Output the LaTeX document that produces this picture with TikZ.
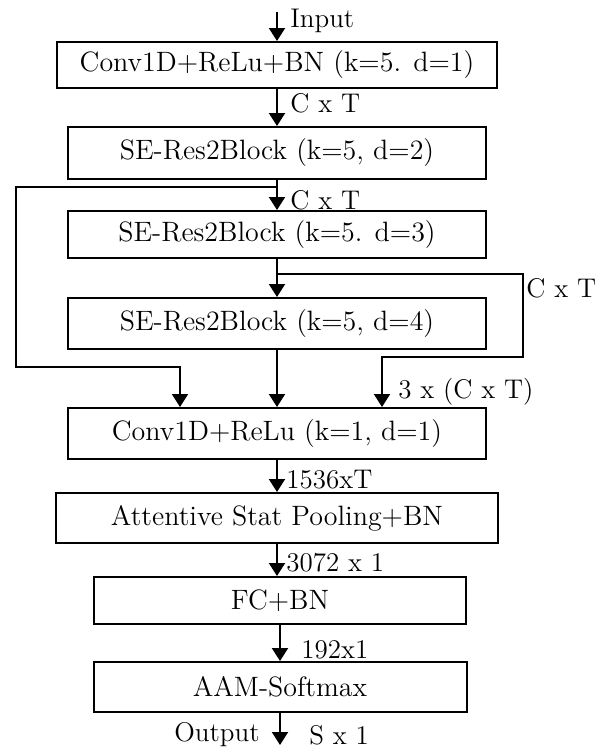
\documentclass[tikz,border=0pt]{standalone}
\usetikzlibrary{arrows.meta}
\begin{document}
\begin{tikzpicture}[x=0.5pt,y=-0.5pt,
  block/.style={draw,line width=1pt,inner sep=0pt,font=\fontsize{14}{17}\selectfont},
  flow/.style={line width=1pt,-{Triangle[width=8pt,length=6.5pt]}},
  dim/.style={anchor=west,inner sep=0pt,font=\fontsize{13.5}{16}\selectfont}]
  \useasboundingbox (0,0) rectangle (597,751);
  % blocks: name/x/y/width/height/text
  \foreach \name/\x/\y/\w/\h/\txt in {
    conv/277/65/440/46/{Conv1D+ReLu+BN (k=5. d=1)},
    res1/277/153/418/52/{SE-Res2Block (k=5, d=2)},
    res2/277/234.5/418/47/{SE-Res2Block (k=5. d=3)},
    res3/277/323.5/418/51/{SE-Res2Block (k=5, d=4)},
    mfa/277/433.5/418/51/{Conv1D+ReLu (k=1, d=1)},
    pool/277/518/442/50/{Attentive Stat Pooling+BN},
    fc/280/600.5/372/47/{FC+BN},
    aam/280/687/373/50/{AAM-Softmax}} {
    \node[block,minimum width=\w*0.5pt,minimum height=\h*0.5pt] (\name) at (\x,\y) {\txt};
  }
  \foreach \a/\b in {conv/res1,res1/res2,res2/res3,res3/mfa,mfa/pool,pool/fc,fc/aam}
    \draw[flow] (\a.south) -- (\a.south |- \b.north);
  % input and output
  \coordinate (in) at (277,12);
  \coordinate (out) at (280,745);
  \draw[flow] (in) -- (conv.north);
  \draw[flow] (aam.south) -- (out);
  % skip connections into the aggregation block
  \coordinate (tap1) at (277,187);
  \coordinate (tap2) at (277,274);
  \draw[flow] (tap1) -| (16,367) -| ([xshift=-48.5pt]mfa.north);
  \draw[flow] (tap2) -| (523,357) -| ([xshift=52.5pt]mfa.north);
  % dimension labels
  \node[dim] (linput) at (290,21) {Input};
  \node[dim] (lct1) at (290,103) {C x T};
  \node[dim] (lct2) at (290,200) {C x T};
  \node[dim] (lct3) at (526,288) {C x T};
  \node[dim] (lcat) at (398,392) {3 x (C x T)};
  \node[dim] (lmfa) at (286,480) {1536xT};
  \node[dim] (lpool) at (286,563) {3072 x 1};
  \node[dim] (lfc) at (301,650) {192x1};
  \node[dim,anchor=east] (lout) at (260,735) {Output};
  \node[dim] (ls) at (309,735) {S x 1};
\end{tikzpicture}
\end{document}
